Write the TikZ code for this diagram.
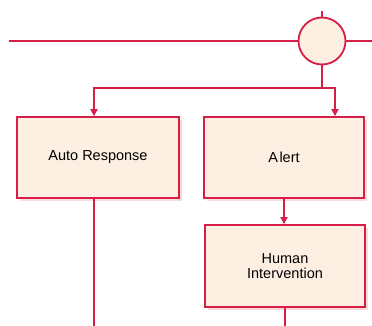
\documentclass[tikz,border=0pt]{standalone}
\usepackage{fontspec}
\setmainfont{Liberation Sans}
\usetikzlibrary{arrows.meta,shadows}
\definecolor{flowred}{RGB}{214,30,72}
\definecolor{flowfill}{RGB}{253,240,227}
\definecolor{flowshade}{RGB}{243,186,180}
\tikzset{
  flowline/.style={draw=flowred, line width=1.8pt},
  flowarrow/.style={flowline, -{Triangle[length=7pt,width=7pt]}},
  procbox/.style={draw=flowred, line width=1.8pt, fill=flowfill, rectangle,
    inner sep=0pt, align=center,
    font=\fontsize{14.5}{15}\selectfont,
    drop shadow={shadow xshift=2.5pt, shadow yshift=-2.5pt, fill=flowshade}},
  junction/.style={draw=flowred, line width=1.8pt, fill=flowfill, circle,
    minimum size=47pt, inner sep=0pt}
}
\begin{document}
\begin{tikzpicture}[x=1pt,y=-1pt]
\useasboundingbox (0,0) rectangle (372,325);

% junction on the main line
\node[junction] (hub) at (322,41) {};
\coordinate (mainL) at (9,41);
\coordinate (mainR) at (372,41);
\coordinate (feed) at (322,11);
\draw[flowline] (mainL) -- (hub.west);
\draw[flowline] (hub.east) -- (mainR);
\draw[flowline] (feed) -- (hub.north);

% process boxes
\node[procbox, minimum width=162pt, minimum height=81pt] (auto) at (98,157.5) {Auto Response};
\node[procbox, minimum width=160pt, minimum height=81pt] (alert) at (284,157.5) {A\kern1.5pt lert};
\node[procbox, minimum width=160pt, minimum height=82pt] (human) at (285,266) {Human\\Intervention};

% branch from the junction down to both boxes
\coordinate (split) at (322,88);
\coordinate (autoIn) at ([xshift=-4pt]auto.north);
\coordinate (alertIn) at ([xshift=51pt]alert.north);
\draw[flowline] (hub.south) -- (split);
\draw[flowarrow] (split) -| (autoIn);
\draw[flowarrow] (split) -| (alertIn);

% outgoing flows
\coordinate (autoOut) at ([xshift=-4pt]auto.south);
\coordinate (autoEnd) at (94,326);
\draw[flowline] (autoOut) -- (autoEnd);
\draw[flowarrow] (alert.south) -- (alert.south |- human.north);
\coordinate (humanEnd) at (human.south |- autoEnd);
\draw[flowline] (human.south) -- (humanEnd);
\end{tikzpicture}
\end{document}
